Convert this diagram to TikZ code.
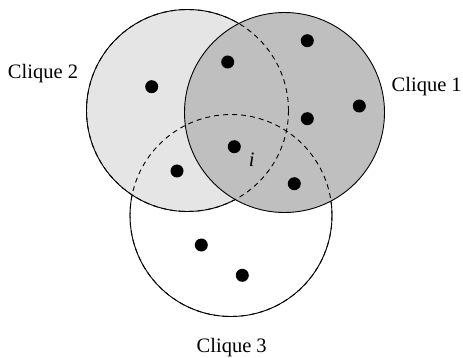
\documentclass[tikz,border=0pt]{standalone}
\usepackage{fontspec}
\setmainfont{Liberation Serif}
\usepackage{tikz}
\usetikzlibrary{backgrounds}
\definecolor{lgray}{gray}{0.9}
\definecolor{dgray}{gray}{0.75}
\tikzstyle{clique}=[circle,draw=black,line width=0.9,inner sep=0pt,minimum size=202]
\tikzstyle{hidden}=[draw=black,line width=0.9,dash pattern=on 5pt off 4pt]
\tikzstyle{member}=[circle,fill=black,draw=none,inner sep=0pt,minimum size=13]
\tikzstyle{label}=[inner sep=0pt,font=\rmfamily\fontsize{20.5}{24}\selectfont]
\pgfdeclarelayer{edgelayer}
\pgfdeclarelayer{nodelayer}
\pgfsetlayers{edgelayer,nodelayer,main}

\begin{document}
\begin{tikzpicture}[x=1pt,y=-1pt]
	\useasboundingbox (0,0) rectangle (463,358);
	\begin{pgfonlayer}{edgelayer}
		\node [style=clique, fill=white] (c3) at (231, 215.5) {};
		\node [style=clique, fill=lgray] (c2) at (187.5, 110.5) {};
		\node [style=clique, fill=dgray, minimum size=200] (c1) at (284.5, 112.5) {};
		\draw [style=hidden] (c2.center) circle (101);
		\draw [style=hidden] (c3.center) circle (101);
	\end{pgfonlayer}
	\begin{pgfonlayer}{nodelayer}
		\node [style=member] (0) at (151.7, 86.7) {};
		\node [style=member] (1) at (227.7, 62) {};
		\node [style=member] (2) at (307.3, 40.7) {};
		\node [style=member] (3) at (359.3, 106) {};
		\node [style=member] (4) at (307.3, 118.7) {};
		\node [style=member] (5) at (234.3, 146.7) {};
		\node [style=member] (6) at (177, 171) {};
		\node [style=member] (7) at (294.3, 183.7) {};
		\node [style=member] (8) at (201.3, 245) {};
		\node [style=member] (9) at (242.3, 275.3) {};
		\node [style=label] (10) at (251.7, 159.3) {\textit{i}};
		\node [style=label] (11) at (43, 74) {Clique 2};
		\node [style=label] (12) at (426.7, 87) {Clique 1};
		\node [style=label] (13) at (231.7, 348) {Clique 3};
	\end{pgfonlayer}
\end{tikzpicture}
\end{document}
